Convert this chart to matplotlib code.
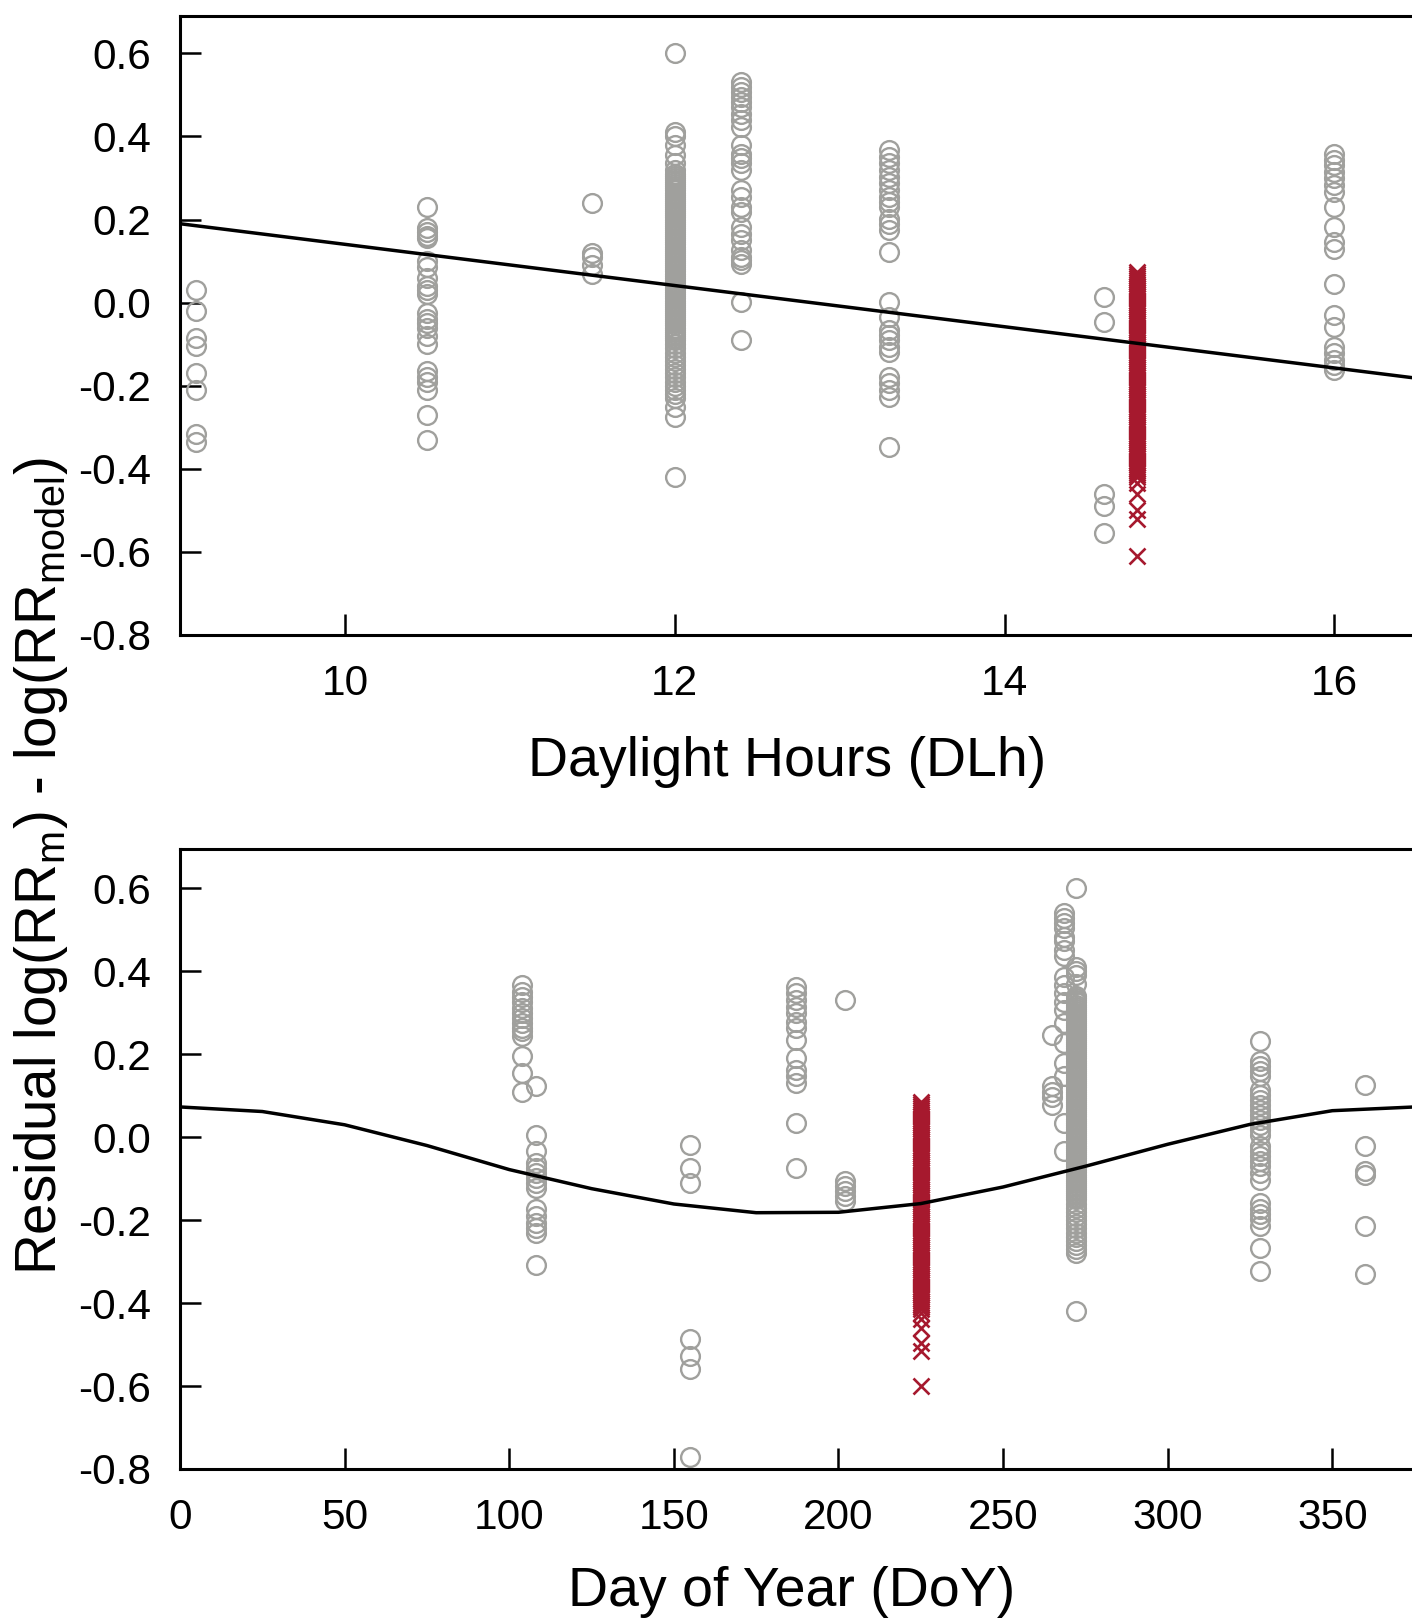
import matplotlib
matplotlib.use("Agg")
import matplotlib.pyplot as plt
from matplotlib.ticker import FormatStrFormatter

plt.rcParams['font.family'] = ['Liberation Sans', 'DejaVu Sans']
plt.rcParams['mathtext.fontset'] = 'custom'
plt.rcParams['mathtext.rm'] = 'Liberation Sans'
plt.rcParams['mathtext.it'] = 'Liberation Sans:italic'
plt.rcParams['axes.unicode_minus'] = False

# ---------------- data: top panel (Daylight hours) ----------------
dlh_x = [9.1, 10.5, 11.5, 12.0, 12.4, 13.3, 14.6, 16.0]
dlh_resid = [
    [0.03, -0.02, -0.085, -0.105, -0.17, -0.21, -0.315, -0.335],
    [0.23, 0.18, 0.17, 0.16, 0.155, 0.10, 0.085, 0.06, 0.04, 0.03, 0.02,
     -0.025, -0.04, -0.05, -0.06, -0.08, -0.10, -0.165, -0.18, -0.19, -0.21,
     -0.27, -0.33],
    [0.24, 0.12, 0.11, 0.09, 0.07],
    [0.60, 0.41, 0.40, 0.38, 0.355, 0.335, 0.32,
     0.310, 0.305, 0.300, 0.295, 0.290, 0.285, 0.280, 0.275, 0.270, 0.265,
     0.260, 0.255, 0.250, 0.245, 0.240, 0.235, 0.230, 0.225, 0.220, 0.215,
     0.210, 0.205, 0.200, 0.195, 0.190, 0.185, 0.180, 0.175, 0.170, 0.165,
     0.160, 0.155, 0.150, 0.145, 0.140, 0.135, 0.130, 0.125, 0.120, 0.115,
     0.110, 0.105, 0.100, 0.095, 0.090, 0.085, 0.080, 0.075, 0.070, 0.065,
     0.060, 0.055, 0.050, 0.045, 0.040, 0.035, 0.030, 0.025, 0.020, 0.015,
     0.010, 0.005, 0.000, -0.005, -0.010, -0.015, -0.020, -0.025, -0.030,
     -0.035, -0.040, -0.045, -0.050, -0.055, -0.060, -0.065, -0.070, -0.075,
     -0.080, -0.085, -0.090, -0.100, -0.110, -0.120, -0.130, -0.140, -0.150,
     -0.160, -0.170, -0.180, -0.190, -0.200, -0.210, -0.220, -0.230,
     -0.25, -0.275, -0.42],
    [0.531, 0.519, 0.507, 0.495, 0.483, 0.471, 0.455, 0.439, 0.423, 0.379,
     0.359, 0.347, 0.335, 0.319, 0.271, 0.254, 0.230, 0.218, 0.182, 0.166,
     0.150, 0.126, 0.110, 0.102, 0.094, 0.002, -0.090],
    [0.367, 0.351, 0.335, 0.319, 0.303, 0.287, 0.271, 0.255, 0.243, 0.230,
     0.202, 0.190, 0.174, 0.122, 0.002, -0.034, -0.066, -0.078, -0.090,
     -0.106, -0.118, -0.178, -0.194, -0.210, -0.226, -0.347],
    [0.014, -0.046, -0.46, -0.49, -0.555],
    [0.359, 0.343, 0.331, 0.315, 0.299, 0.283, 0.267, 0.230, 0.182, 0.146,
     0.130, 0.046, -0.030, -0.058, -0.106, -0.122, -0.138, -0.150, -0.162],
]
dlh_red_x = 14.8
dlh_red_resid = [0.074, 0.070, 0.065, 0.060, 0.055, 0.050, 0.045, 0.040,
                 0.035, 0.030, 0.025, 0.020, 0.015, 0.010, 0.005, 0.000,
                 -0.005, -0.010, -0.015, -0.020, -0.025, -0.030, -0.035,
                 -0.040, -0.045, -0.050, -0.055, -0.060, -0.065, -0.070,
                 -0.075, -0.080, -0.085, -0.090, -0.095, -0.100, -0.105,
                 -0.110, -0.115, -0.120, -0.125, -0.130, -0.135, -0.140,
                 -0.145, -0.150, -0.155, -0.160, -0.165, -0.170, -0.175,
                 -0.180, -0.185, -0.190, -0.195, -0.200, -0.205, -0.210,
                 -0.215, -0.220, -0.225, -0.230, -0.235, -0.240, -0.245,
                 -0.250, -0.255, -0.260, -0.265, -0.270, -0.275, -0.280,
                 -0.285, -0.290, -0.295, -0.300, -0.305, -0.310, -0.315,
                 -0.320, -0.325, -0.330, -0.335, -0.340, -0.345, -0.350,
                 -0.355, -0.360, -0.365, -0.370, -0.375, -0.380, -0.385,
                 -0.390, -0.395, -0.400, -0.405, -0.410, -0.415, -0.420,
                 -0.435, -0.46, -0.50, -0.52, -0.61]
dlh_line_x = [9.0, 16.5]
dlh_line_y = [0.19, -0.182]

# ---------------- data: bottom panel (Day of year) ----------------
doy_x = [104, 108, 155, 187, 202, 265, 268.5, 272, 328, 360]
doy_resid = [
    [0.367, 0.351, 0.339, 0.327, 0.311, 0.299, 0.287, 0.275, 0.263, 0.255,
     0.243, 0.195, 0.155, 0.11],
    [0.123, 0.006, -0.034, -0.062, -0.074, -0.086, -0.098, -0.11, -0.122,
     -0.174, -0.19, -0.206, -0.218, -0.23, -0.309],
    [-0.018, -0.074, -0.11, -0.487, -0.527, -0.559, -0.77],
    [0.363, 0.347, 0.331, 0.315, 0.299, 0.279, 0.263, 0.235, 0.191, 0.163,
     0.147, 0.131, 0.034, -0.074],
    [0.331, -0.106, -0.118, -0.13, -0.142, -0.154],
    [0.247, 0.123, 0.11, 0.098, 0.078],
    [0.54, 0.528, 0.516, 0.504, 0.484, 0.472, 0.452, 0.436, 0.387, 0.367,
     0.347, 0.327, 0.307, 0.275, 0.227, 0.179, 0.147, 0.034, -0.034],
    [0.60, 0.41, 0.40, 0.39, 0.37,
     0.340, 0.335, 0.330, 0.325, 0.320, 0.315, 0.310, 0.305, 0.300, 0.295,
     0.290, 0.285, 0.280, 0.275, 0.270, 0.265, 0.260, 0.255, 0.250, 0.245,
     0.240, 0.235, 0.230, 0.225, 0.220, 0.215, 0.210, 0.205, 0.200, 0.195,
     0.190, 0.185, 0.180, 0.175, 0.170, 0.165, 0.160, 0.155, 0.150, 0.145,
     0.140, 0.135, 0.130, 0.125, 0.120, 0.115, 0.110, 0.105, 0.100, 0.095,
     0.090, 0.085, 0.080, 0.075, 0.070, 0.065, 0.060, 0.055, 0.050, 0.045,
     0.040, 0.035, 0.030, 0.025, 0.020, 0.015, 0.010, 0.005, 0.000, -0.005,
     -0.010, -0.015, -0.020, -0.025, -0.030, -0.035, -0.040, -0.045, -0.050,
     -0.055, -0.060, -0.065, -0.070, -0.075, -0.080, -0.085, -0.090, -0.095,
     -0.100, -0.105, -0.110, -0.115, -0.120, -0.125, -0.130, -0.135, -0.140,
     -0.145, -0.150, -0.160, -0.170, -0.180, -0.190, -0.200, -0.210, -0.220,
     -0.230, -0.240, -0.250, -0.260, -0.270, -0.280, -0.42],
    [0.231, 0.183, 0.171, 0.159, 0.147, 0.115, 0.102, 0.090, 0.078, 0.066,
     0.054, 0.042, 0.030, 0.018, 0.006, -0.022, -0.034, -0.046, -0.058,
     -0.070, -0.086, -0.102, -0.158, -0.174, -0.186, -0.198, -0.214, -0.266,
     -0.323],
    [0.127, -0.022, -0.082, -0.090, -0.214, -0.331],
]
doy_red_x = 225
doy_red_resid = [0.086, 0.080, 0.075, 0.070, 0.065, 0.060, 0.055, 0.050,
                 0.045, 0.040, 0.035, 0.030, 0.025, 0.020, 0.015, 0.010,
                 0.005, 0.000, -0.005, -0.010, -0.015, -0.020, -0.025,
                 -0.030, -0.035, -0.040, -0.045, -0.050, -0.055, -0.060,
                 -0.065, -0.070, -0.075, -0.080, -0.085, -0.090, -0.095,
                 -0.100, -0.105, -0.110, -0.115, -0.120, -0.125, -0.130,
                 -0.135, -0.140, -0.145, -0.150, -0.155, -0.160, -0.165,
                 -0.170, -0.175, -0.180, -0.185, -0.190, -0.195, -0.200,
                 -0.205, -0.210, -0.215, -0.220, -0.225, -0.230, -0.235,
                 -0.240, -0.245, -0.250, -0.255, -0.260, -0.265, -0.270,
                 -0.275, -0.280, -0.285, -0.290, -0.295, -0.300, -0.305,
                 -0.310, -0.315, -0.320, -0.325, -0.330, -0.335, -0.340,
                 -0.345, -0.350, -0.355, -0.360, -0.365, -0.370, -0.375,
                 -0.380, -0.385, -0.390, -0.395, -0.400, -0.405, -0.410,
                 -0.415, -0.423,
                 -0.439, -0.459, -0.495, -0.515, -0.599]
doy_curve_x = [0, 25, 50, 75, 100, 125, 150, 175, 200, 225, 250, 275, 300,
               325, 350, 375]
doy_curve_y = [0.073, 0.062, 0.030, -0.020, -0.078, -0.124, -0.161, -0.182,
               -0.181, -0.160, -0.120, -0.070, -0.017, 0.031, 0.064, 0.073]

y_ticks = [-0.8, -0.6, -0.4, -0.2, 0.0, 0.2, 0.4, 0.6]
dlh_ticks = [10, 12, 14, 16]
doy_ticks = [0, 50, 100, 150, 200, 250, 300, 350]

# ---------------- styling ----------------
W, H = 1412, 1623
fig = plt.figure(figsize=(W / 100, H / 100), dpi=100)
GRAY = '#a0a09d'
RED = '#a6192e'


def px_axes(left, top, right, bottom):
    return fig.add_axes([left / W, 1 - bottom / H, (right - left) / W,
                         (bottom - top) / H])


def style(ax):
    for s in ['top', 'left', 'bottom']:
        ax.spines[s].set_linewidth(2.2)
    ax.spines['right'].set_visible(False)
    ax.tick_params(direction='in', length=15, width=1.8, labelsize=30.5,
                   top=False, right=False, pad=21)
    ax.set_yticks(y_ticks)
    ax.yaxis.set_major_formatter(FormatStrFormatter('%.1f'))


def draw(ax, xs, groups, red_x, red_vals, line_x, line_y):
    for xv, vals in zip(xs, groups):
        ax.plot([xv] * len(vals), vals, 'o', ms=13.5, mfc='none', mec=GRAY,
                mew=1.7, zorder=2)
    ax.plot([red_x] * len(red_vals), red_vals, 'x', ms=11, mec=RED,
            mew=1.9, zorder=3)
    ax.plot(line_x, line_y, '-', color='black', lw=2.5, zorder=4)


ax1 = px_axes(180, 16, 1412, 635)
draw(ax1, dlh_x, dlh_resid, dlh_red_x, dlh_red_resid, dlh_line_x, dlh_line_y)
ax1.set_xlim(9.0, 16.47)
ax1.set_ylim(-0.8, 0.69)
style(ax1)
ax1.set_xticks(dlh_ticks)

ax2 = px_axes(180, 849, 1412, 1469)
draw(ax2, doy_x, doy_resid, doy_red_x, doy_red_resid, doy_curve_x, doy_curve_y)
ax2.set_xlim(0, 374.2)
ax2.set_ylim(-0.8, 0.695)
style(ax2)
ax2.set_xticks(doy_ticks)

fig.text(787 / W, 1 - 762 / H, 'Daylight Hours (DLh)', fontsize=40,
         ha='center', va='center')
fig.text(792 / W, 1 - 1592 / H, 'Day of Year (DoY)', fontsize=40,
         ha='center', va='center')
fig.text(41 / W, 1 - 866 / H,
         r'Residual log(RR$_\mathregular{m}$) - log(RR$_\mathregular{model}$)',
         fontsize=40.7, rotation=90, ha='center', va='center')

fig.savefig('out.png', dpi=100)
